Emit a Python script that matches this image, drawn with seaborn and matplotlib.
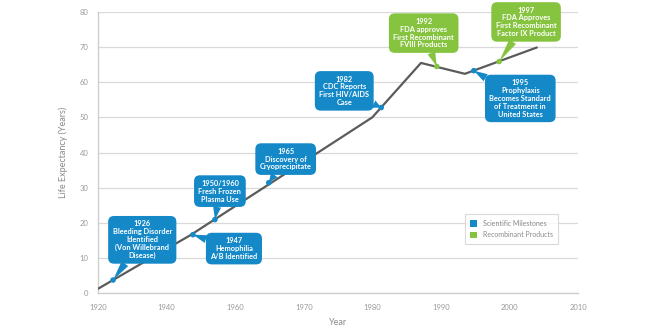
import numpy as np
import pandas as pd
import matplotlib
matplotlib.use("Agg")
import matplotlib.pyplot as plt
from matplotlib.patches import Patch
import seaborn as sns

# ---- data ----
tick_years = [1920, 1940, 1960, 1970, 1980, 1990, 2000, 2010]
y_ticks = [0, 10, 20, 30, 40, 50, 60, 70, 80]

line_years = [1920, 1947, 1980, 1987.1, 1993.5, 2004]
line_values = [1.2, 16.5, 50.0, 65.5, 62.4, 69.9]

event_years = [1924.4, 1947.7, 1954.1, 1964.9, 1981.3, 1989.4, 1994.8, 1998.5]
event_values = [3.7, 16.6, 20.9, 31.4, 52.8, 64.5, 63.3, 65.9]
event_types = ["Scientific Milestones", "Scientific Milestones", "Scientific Milestones",
               "Scientific Milestones", "Scientific Milestones", "Recombinant Products",
               "Scientific Milestones", "Recombinant Products"]
event_labels = [
    "1926\nBleeding Disorder\nIdentified\n(Von Willebrand\nDisease)",
    "1947\nHemophilia\nA/B Identified",
    "1950/1960\nFresh Frozen\nPlasma Use",
    "1965\nDiscovery of\nCryoprecipitate",
    "1982\nCDC Reports\nFirst HIV/AIDS\nCase",
    "1992\nFDA approves\nFirst Recombinant\nFVIII Products",
    "1995\nProphylaxis\nBecomes Standard\nof Treatment in\nUnited States",
    "1997\nFDA Approves\nFirst Recombinant\nFactor IX Product",
]

# ---- styles / layout ----
colors = {"Scientific Milestones": "#1589c8", "Recombinant Products": "#86c440"}
# callout offsets in points (box centre relative to the point)
offsets = [(21, 29), (29.5, -10), (3.6, 20.5), (12.2, 17), (-26.6, 12),
           (-9.4, 24), (33.5, -20), (19.4, 28.5)]

sns.set_style("white")
plt.rcParams["font.family"] = ["Lato", "DejaVu Sans"]

fig = plt.figure(figsize=(6.6, 3.3), dpi=100)
ax = fig.add_axes([98 / 660, 1 - 293 / 330, (578 - 98) / 660, (293 - 12) / 330])

idx = np.arange(len(tick_years), dtype=float)
def fwd(x):
    return np.interp(x, tick_years, idx)
def inv(x):
    return np.interp(x, idx, tick_years)
ax.set_xscale("function", functions=(fwd, inv))

df_line = pd.DataFrame({"year": line_years, "value": line_values})
sns.lineplot(data=df_line, x="year", y="value", ax=ax, color="#5b5b5b",
             linewidth=1.6, sort=False, zorder=3)

df_ev = pd.DataFrame({"year": event_years, "value": event_values, "type": event_types})
sns.scatterplot(data=df_ev, x="year", y="value", hue="type", palette=colors, ax=ax,
                s=16, edgecolor="none", legend=False, zorder=5)

for yr, val, lab, typ, off in zip(event_years, event_values, event_labels, event_types, offsets):
    c = colors[typ]
    ax.annotate(lab, xy=(yr, val), xytext=off, textcoords="offset points",
                ha="center", va="center", fontsize=5.3, fontweight="bold",
                color="white", linespacing=1.15, zorder=6,
                bbox=dict(boxstyle="round,pad=0.6,rounding_size=0.8", fc=c, ec="none"),
                arrowprops=dict(arrowstyle="wedge,tail_width=1.1,shrink_factor=0.5",
                                fc=c, ec="none", shrinkA=0, shrinkB=0))

ax.set_xlim(1920, 2010)
ax.set_ylim(0, 80)
ax.set_xticks(tick_years)
ax.set_xticklabels([str(t) for t in tick_years])
ax.set_yticks(y_ticks)
ax.grid(axis="y", color="#d9d9d9", linewidth=0.9)
ax.grid(axis="x", visible=False)
ax.set_axisbelow(True)
for s in ["top", "right"]:
    ax.spines[s].set_visible(False)
for s in ["left", "bottom"]:
    ax.spines[s].set_color("#cfcfcf")
    ax.spines[s].set_linewidth(1.0)
ax.tick_params(axis="both", colors="#cfcfcf", length=4, width=0.8,
               labelcolor="#9a9a9a", labelsize=5.5, pad=4)
ax.tick_params(axis="y", pad=3)
ax.set_ylabel("Life Expectancy (Years)", color="#8a8a8a", fontsize=6.5, labelpad=8)
ax.set_xlabel("Year", color="#8a8a8a", fontsize=6.5, labelpad=5)

handles = [Patch(facecolor=colors[k], edgecolor="none", label=k) for k in colors]
leg = ax.legend(handles=handles, loc="upper left", bbox_to_anchor=(0.757, 0.292),
                fontsize=5, frameon=True, fancybox=False, edgecolor="#d0d0d0",
                handlelength=1.0, handleheight=1.0, handletextpad=0.8,
                borderpad=0.8, labelspacing=0.6)
for t in leg.get_texts():
    t.set_color("#8a8a8a")
leg.get_frame().set_linewidth(0.8)

fig.savefig("out.png", dpi=100)
